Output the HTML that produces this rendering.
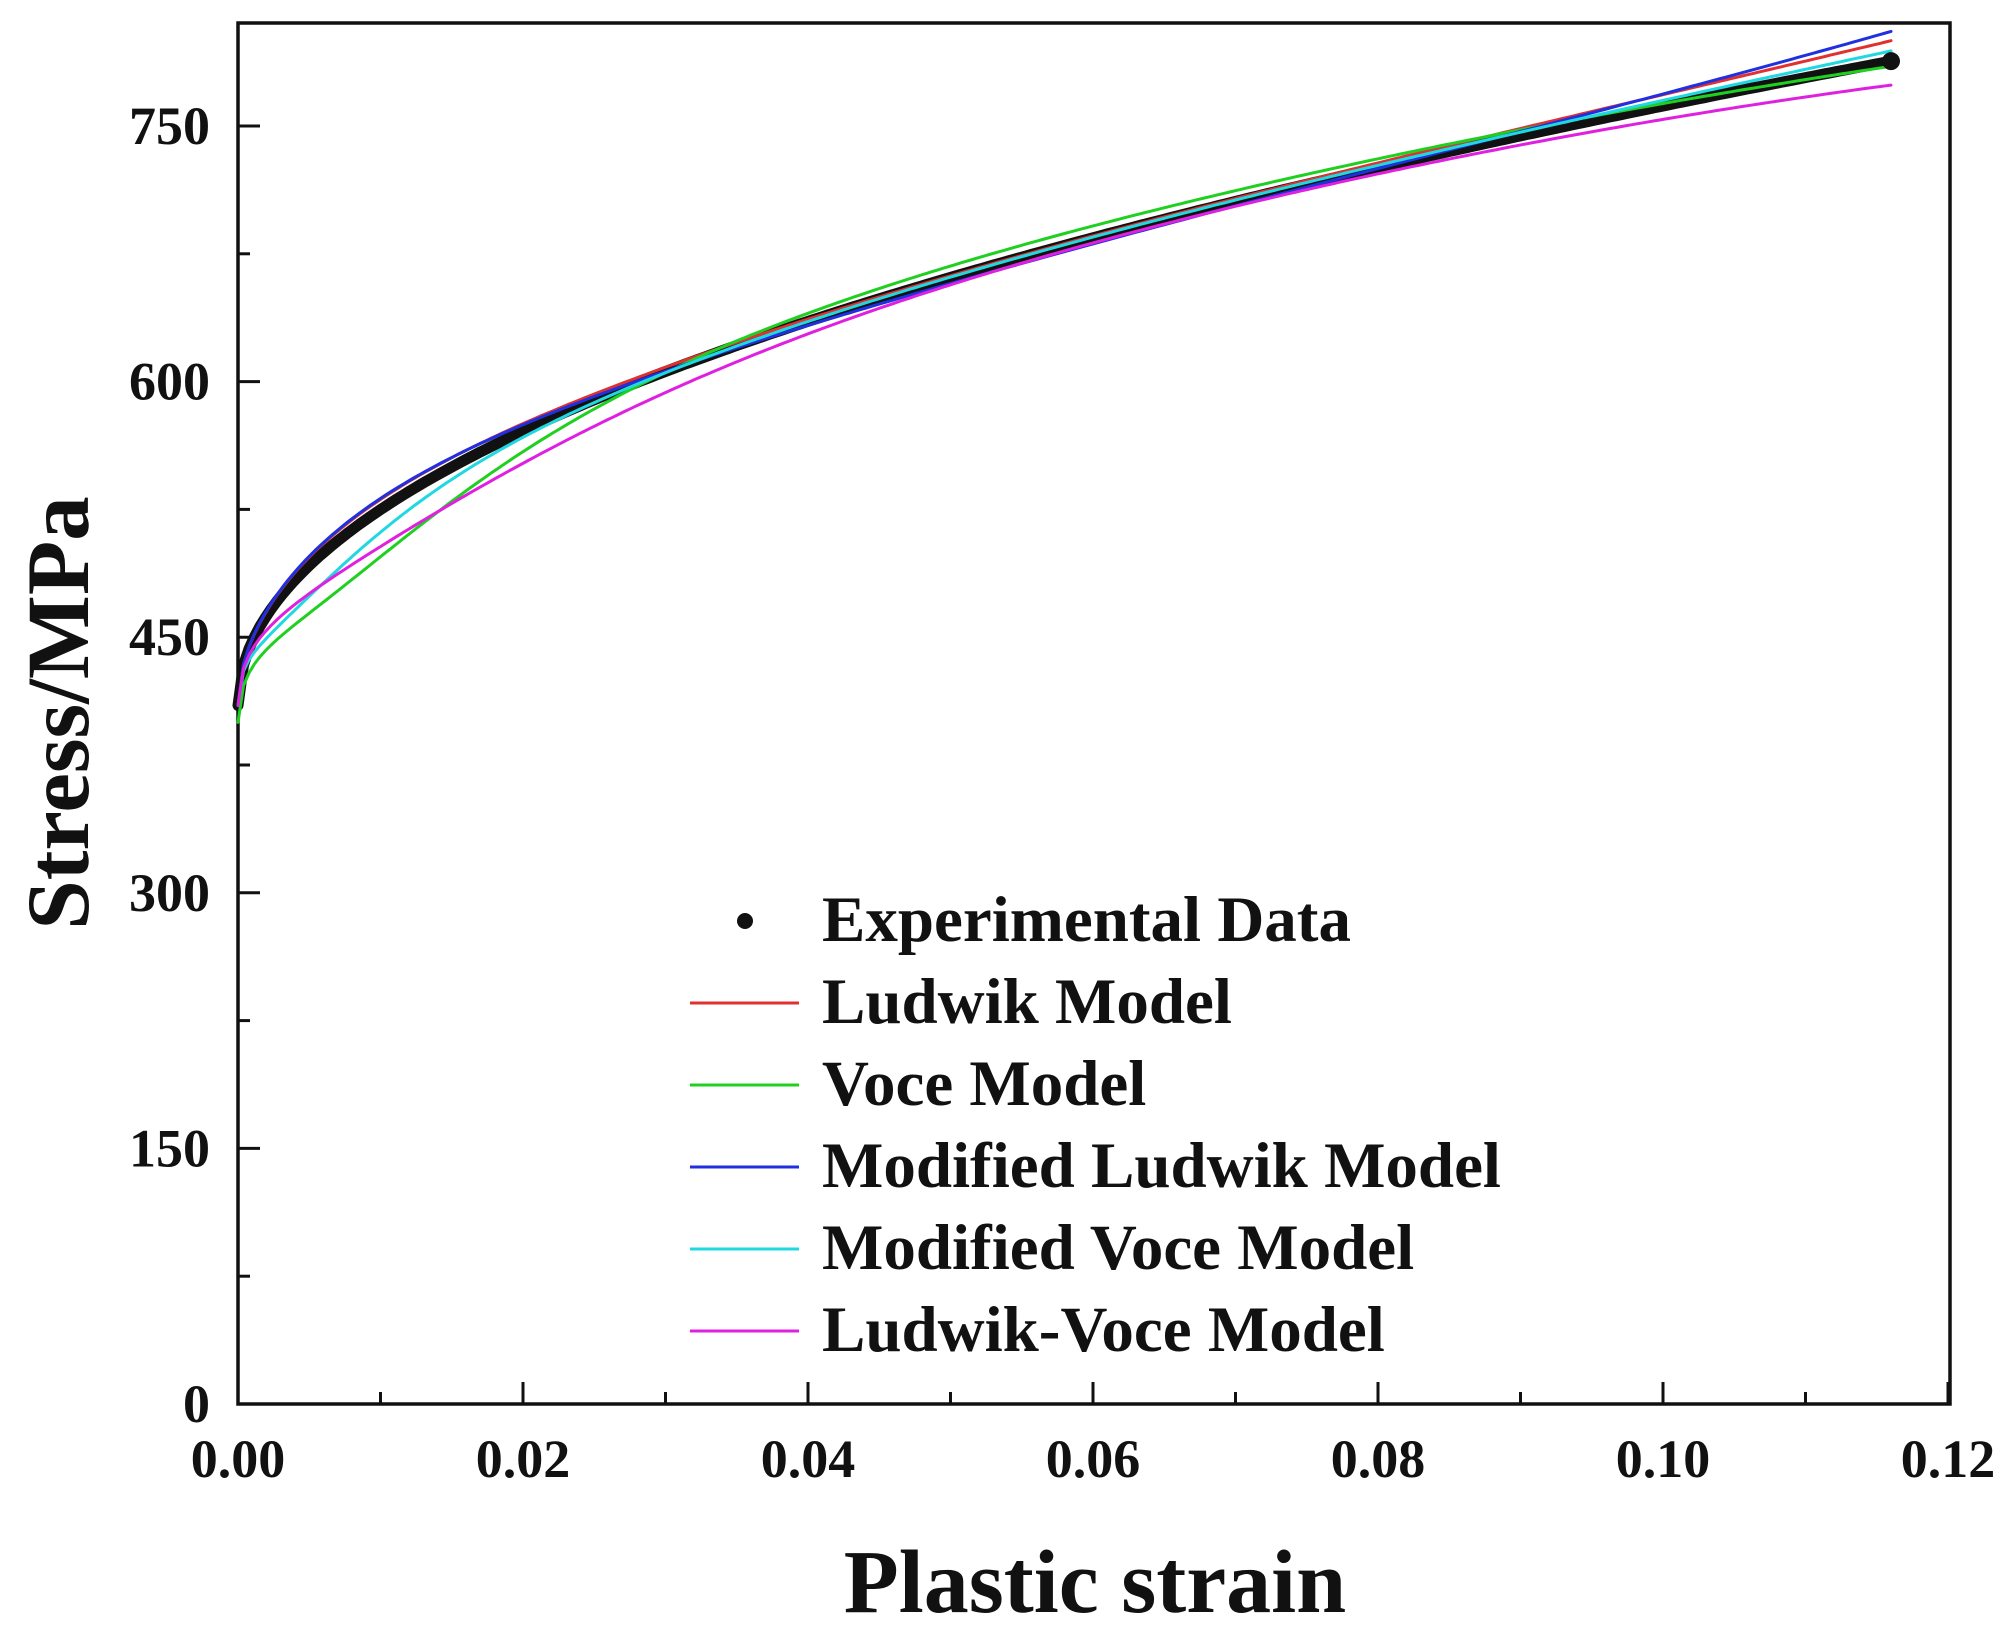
<!DOCTYPE html>
<html><head><meta charset="utf-8"><style>
html,body{margin:0;padding:0;background:#fff;}
svg{display:block;}
text{font-family:"Liberation Serif",serif;font-weight:bold;fill:#111;}
</style></head><body>
<svg id="s" width="2013" height="1634" xmlns="http://www.w3.org/2000/svg">
<rect x="238" y="23" width="1712" height="1381" fill="none" stroke="#111" stroke-width="3.5"/>
<g id="ticks" stroke="#111" stroke-width="3"></g>
<g id="lab" font-size="54"></g>
<g id="curves" fill="none" stroke-linejoin="round" stroke-linecap="round"></g>
<text x="1095" y="1612" font-size="90" text-anchor="middle">Plastic strain</text>
<text transform="translate(88,713) rotate(-90)" font-size="89" text-anchor="middle">Stress/MPa</text>
<g font-size="65">
<circle cx="745" cy="921" r="8" fill="#111"/>
<text x="822" y="941">Experimental Data</text>
<line x1="690" y1="1003" x2="799" y2="1003" stroke="#e03030" stroke-width="3"/>
<text x="822" y="1023">Ludwik Model</text>
<line x1="690" y1="1085" x2="799" y2="1085" stroke="#20d020" stroke-width="3"/>
<text x="822" y="1105">Voce Model</text>
<line x1="690" y1="1167" x2="799" y2="1167" stroke="#2030e0" stroke-width="3"/>
<text x="822" y="1187">Modified Ludwik Model</text>
<line x1="690" y1="1249" x2="799" y2="1249" stroke="#20d8e0" stroke-width="3"/>
<text x="822" y="1269">Modified Voce Model</text>
<line x1="690" y1="1331" x2="799" y2="1331" stroke="#e020e0" stroke-width="3"/>
<text x="822" y="1351">Ludwik-Voce Model</text>
</g>
</svg>
<script>
var NS="http://www.w3.org/2000/svg";
function el(p,t,a,txt){var e=document.createElementNS(NS,t);for(var k in a)e.setAttribute(k,a[k]);if(txt!=null)e.textContent=txt;p.appendChild(e);return e;}
var X=function(e){return 238+e*14250;},Y=function(s){return 1404-s*1.704;};
var tk=document.getElementById('ticks'),lb=document.getElementById('lab');
for(var i=0;i<=12;i++){var x=X(i*0.01);var L=i%2?12:22;
 el(tk,'line',{x1:x,y1:1404,x2:x,y2:1404-L});
 if(i%2==0)el(lb,'text',{x:x,y:1477,'text-anchor':'middle'},(i*0.01).toFixed(2));}
for(var j=0;j<=11;j++){var y=Y(j*75);var L=j%2?12:22;
 el(tk,'line',{x1:238,y1:y,x2:238+L,y2:y});
 if(j%2==0)el(lb,'text',{x:210,y:y+18,'text-anchor':'end'},String(j*75));}
var cv=document.getElementById('curves');
function path(f,col,w,e0){e0=e0||0;var d='';for(var k=0;k<=300;k++){var e=e0+(0.116-e0)*k/300;d+=(k?'L':'M')+X(e).toFixed(1)+','+Y(f(e)).toFixed(1);}el(cv,'path',{d:d,stroke:col,'stroke-width':w});}
var base=function(e){return 410+1077*Math.pow(e,0.486);};
function g(e,c){return (e/c)*Math.exp(1-e/c);}
function p4(e){return Math.pow(e/0.116,4);}
path(function(e){return base(e);},'#111',11);
path(function(e){return base(e)+6*g(e,0.01)+12*p4(e);},'#e03030',3);
path(function(e){return base(e)-32*g(e,0.008)-10*Math.exp(-e/0.002)+8*g(e,0.05)-8*p4(e);},'#20d020',3);
path(function(e){return base(e)+9*g(e,0.012)-6*g(e,0.06)+22*p4(e);},'#2030e0',3);
path(function(e){return base(e)-18*g(e,0.005)+6*p4(e);},'#20d8e0',3);
path(function(e){return base(e)-22*g(e,0.012)-14*p4(e);},'#e020e0',3);
el(cv,'circle',{cx:X(0.116),cy:Y(base(0.116)),r:9,fill:'#111'});
</script>
</body></html>
